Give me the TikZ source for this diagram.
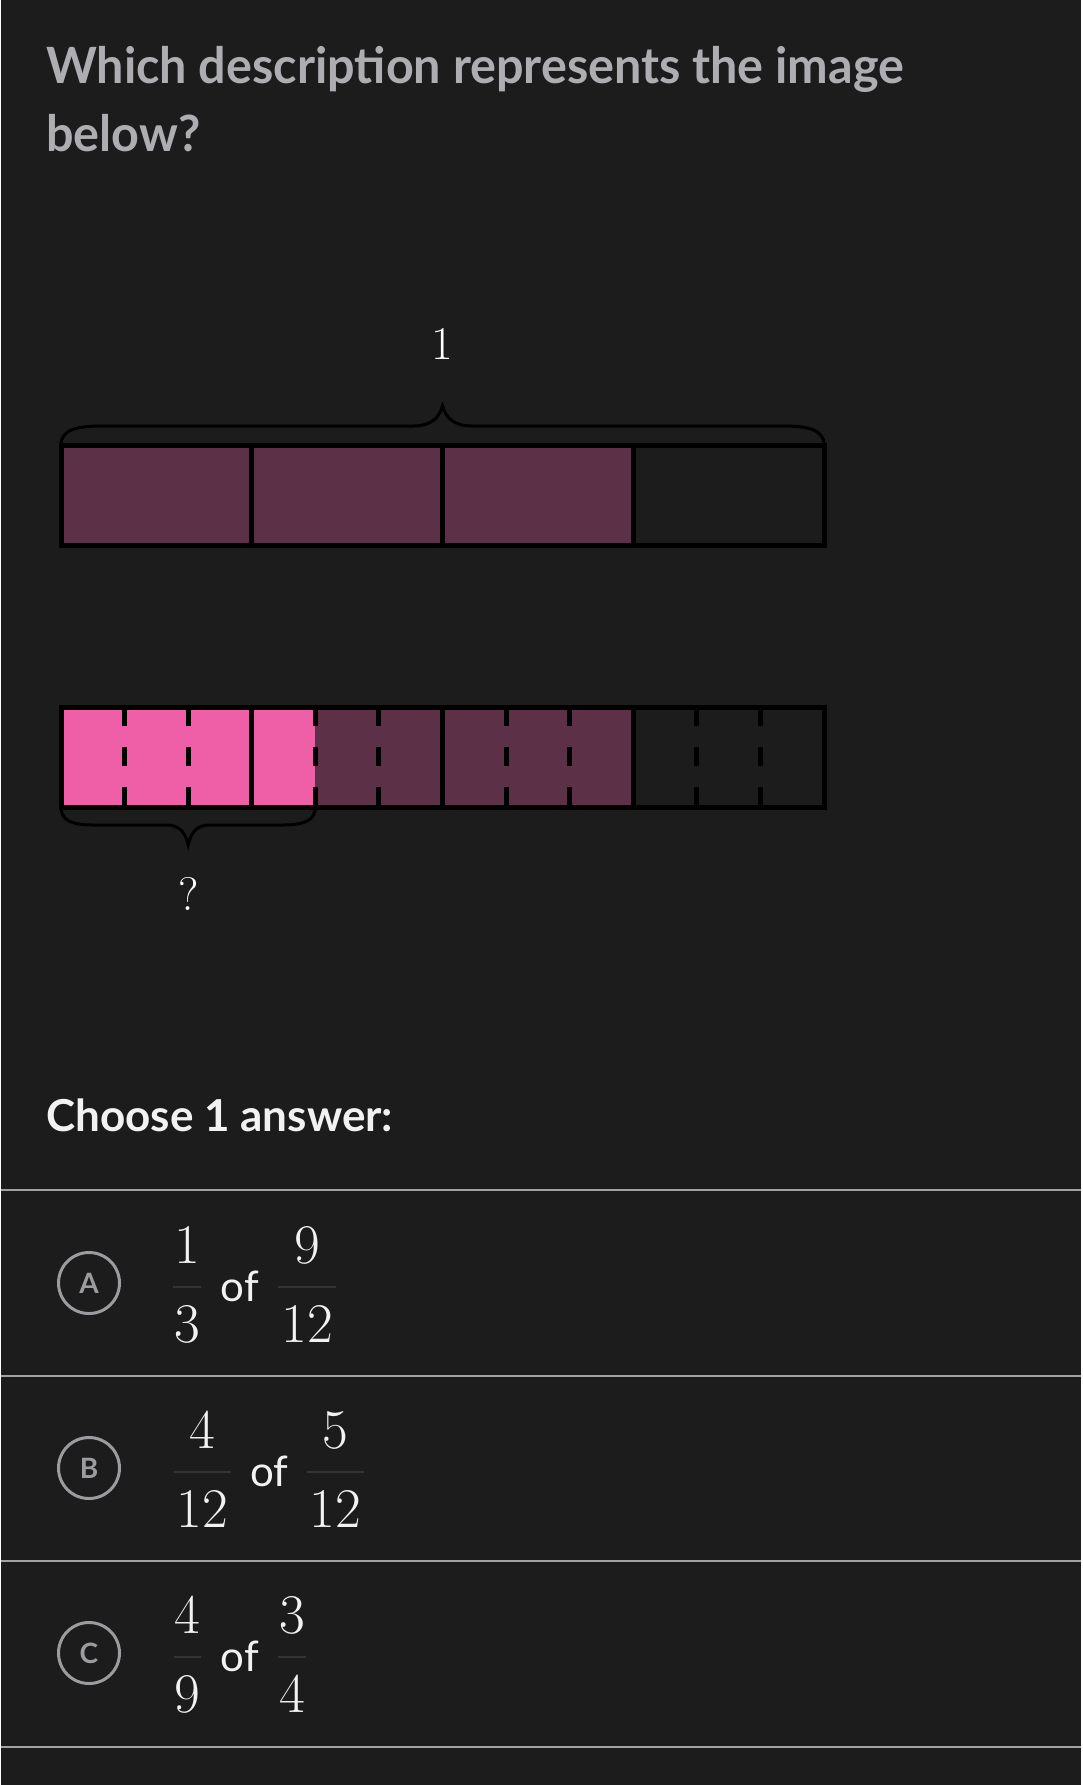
\documentclass[tikz,border=0pt]{standalone}
\usepackage{fontspec}
\setsansfont{Lato}
\newfontfamily\questionfont[FakeStretch=0.97]{Lato}
\usepackage{tikz}
\usepackage{color}

\definecolor{bgcol}{HTML}{1C1C1C}
\definecolor{titlegray}{HTML}{AEAEB2}
\definecolor{partpurple}{HTML}{5C3047}
\definecolor{partpink}{HTML}{EE5FA7}
\definecolor{optgray}{HTML}{9C9CA0}
\definecolor{sepgray}{HTML}{A2A2A2}
\definecolor{fracbar}{HTML}{333338}
\definecolor{txtwhite}{HTML}{F2F2F2}

\tikzset{
  txt/.style={inner sep=0pt, anchor=base},
  barline/.style={color=black, line width=5pt},
  tickdash/.style={color=black, line width=5pt, dash pattern=on 19pt off 21pt},
  bracepath/.style={color=black, line width=3pt},
  sepline/.style={color=sepgray, line width=2pt},
  fracline/.style={color=fracbar, line width=1.5pt},
  optmark/.style={circle, draw=optgray, line width=3pt, minimum size=61pt,
    inner sep=0pt, text=optgray, font=\sffamily\bfseries\fontsize{28}{28}\selectfont},
  digit/.style={txt, text=txtwhite, font=\rmfamily\fontsize{56}{56}\selectfont},
  ofword/.style={txt, text=txtwhite, font=\sffamily\fontsize{42}{42}\selectfont},
  question/.style={txt, anchor=base west, text=titlegray,
    font=\questionfont\bfseries\fontsize{50}{60}\selectfont},
}

\begin{document}
\begin{tikzpicture}[%
      x=1pt, y=-1pt,
      ]
      \fill [bgcol] (0,0) rectangle (1080,1785);

      % question
      \node [question] (title1) at (45,83) {Which description represents the image};
      \node [question] (title2) at (45,151) {below?};

      % whole bar, fourths
      \fill [partpurple] (60,445) rectangle (632.25,545);
      \draw [barline] (250.75,445) -- (250.75,545);
      \draw [barline] (441.5,445) -- (441.5,545);
      \draw [barline] (632.25,445) -- (632.25,545);
      \draw [barline] (60,445) rectangle (823,545);

      \draw [bracepath] (60,445) .. controls (60,430) and (75,426) .. (101,426)
        -- (412,426) .. controls (430,426) and (438,418) .. (441.5,406)
        .. controls (445,418) and (453,426) .. (471,426)
        -- (782,426) .. controls (808,426) and (823,430) .. (823,445);
      \node [digit, text=white, font=\rmfamily\fontsize{47}{47}\selectfont]
        (onelabel) at (441.5,359) {1};

      % split bar, twelfths
      \fill [partpink] (60,707) rectangle (314.33,807);
      \fill [partpurple] (314.33,707) rectangle (632.25,807);
      \draw [tickdash] (123.58,707) -- (123.58,807);
      \draw [tickdash] (187.17,707) -- (187.17,807);
      \draw [barline] (250.75,707) -- (250.75,807);
      \draw [tickdash] (314.33,707) -- (314.33,807);
      \draw [tickdash] (377.92,707) -- (377.92,807);
      \draw [barline] (441.5,707) -- (441.5,807);
      \draw [tickdash] (505.08,707) -- (505.08,807);
      \draw [tickdash] (568.67,707) -- (568.67,807);
      \draw [barline] (632.25,707) -- (632.25,807);
      \draw [tickdash] (695.83,707) -- (695.83,807);
      \draw [tickdash] (759.42,707) -- (759.42,807);
      \draw [barline] (60,707) rectangle (823,807);

      \draw [bracepath] (60,807) .. controls (60,820) and (70,825) .. (92,825)
        -- (166,825) .. controls (178,825) and (185,833) .. (187.2,845)
        .. controls (189.5,833) and (196,825) .. (208,825)
        -- (282,825) .. controls (304,825) and (314.3,820) .. (314.3,807);
      \node [digit, text=white, font=\rmfamily\fontsize{47}{47}\selectfont]
        (asklabel) at (187.2,910) {?};

      % answers
      \node [txt, anchor=base west, text=txtwhite,
        font=\sffamily\bfseries\fontsize{44}{50}\selectfont]
        (choose) at (45,1131) {Choose 1 answer:};

      \draw [sepline] (0,1190) -- (1080,1190);
      \draw [sepline] (0,1376) -- (1080,1376);
      \draw [sepline] (0,1561) -- (1080,1561);
      \draw [sepline] (0,1747) -- (1080,1747);

      \node [optmark] (optA) at (88,1283) {A};
      \node [digit] (numA1) at (186,1263) {1};
      \draw [fracline] (172,1287) -- (200,1287);
      \node [digit] (denA1) at (186,1342) {3};
      \node [ofword] (ofA) at (239,1301) {of};
      \node [digit] (numA2) at (306,1263) {9};
      \draw [fracline] (277,1287) -- (335,1287);
      \node [digit] (denA2) at (306,1342) {12};

      \node [optmark] (optB) at (88,1468) {B};
      \node [digit] (numB1) at (201.5,1448) {4};
      \draw [fracline] (173,1472) -- (230,1472);
      \node [digit] (denB1) at (201.5,1527) {12};
      \node [ofword] (ofB) at (268.5,1486) {of};
      \node [digit] (numB2) at (334.5,1448) {5};
      \draw [fracline] (306,1472) -- (363,1472);
      \node [digit] (denB2) at (334.5,1527) {12};

      \node [optmark] (optC) at (88,1653) {C};
      \node [digit] (numC1) at (186.5,1633) {4};
      \draw [fracline] (173,1657) -- (200,1657);
      \node [digit] (denC1) at (186.5,1712) {9};
      \node [ofword] (ofC) at (239,1671) {of};
      \node [digit] (numC2) at (291,1633) {3};
      \draw [fracline] (277,1657) -- (305,1657);
      \node [digit] (denC2) at (291,1712) {4};
      \end{tikzpicture}
\end{document}
